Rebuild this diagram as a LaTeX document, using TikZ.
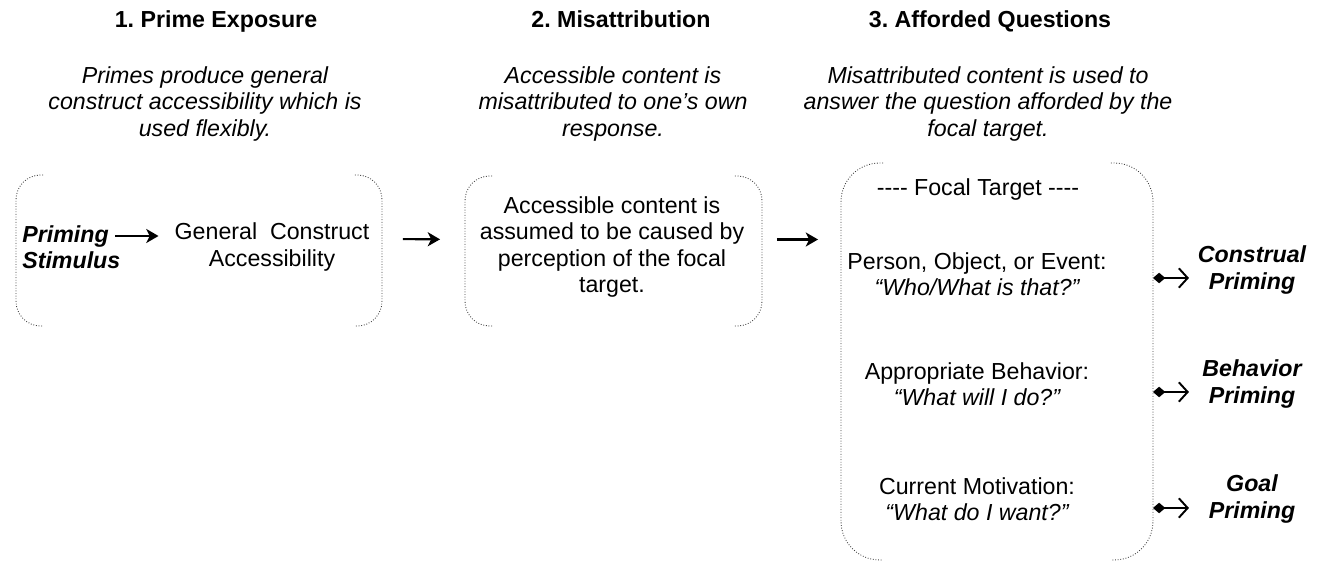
\documentclass[tikz,border=0pt]{standalone}
\usepackage{fontspec}
\setmainfont{Liberation Sans}
\usetikzlibrary{arrows.meta}
\tikzstyle{txt} = [align=center, inner sep=0pt, font={\fontsize{13.2}{15}\selectfont\frenchspacing}]
\tikzstyle{head} = [txt, anchor=base, font={\fontsize{13.2}{15}\selectfont\frenchspacing\bfseries}]
\tikzstyle{sub} = [txt, font={\fontsize{13.2}{15}\selectfont\itshape}]
\tikzstyle{prime} = [txt, font={\fontsize{13.2}{15}\selectfont\bfseries\itshape}]
\tikzstyle{frame} = [inner sep=0pt, outer sep=0pt]
\tikzstyle{brk} = [draw=black!75, densely dotted, line width=0.5pt]
\tikzstyle{flow} = [-{Stealth[length=7pt,width=8pt,inset=2pt]}, line width=1.2pt]
\tikzstyle{side} = [{Diamond[length=7pt,width=6pt]}-{Straight Barb[length=5pt,width=11pt]}, line width=1.1pt]

\begin{document}
\begin{tikzpicture}[x=0.02cm,y=-0.02cm]
  \useasboundingbox (0,0) rectangle (1323,570);
  \node[head](h1) at (216,28){1. Prime Exposure};
  \node[head](h2) at (621,28){2. Misattribution};
  \node[head](h3) at (990,28){3. Afforded Questions};
  \node[sub](s1) at (205,104){Primes produce general\\construct accessibility which is\\used flexibly.};
  \node[sub](s2) at (613,104){Accessible content is\\misattributed to one’s own\\response.};
  \node[sub](s3) at (988,104){Misattributed content is used to\\answer the question afforded by the\\focal target.};
  \node[frame,minimum width=7.32cm,minimum height=3.02cm](b1) at (199,250.5){};
  \node[frame,minimum width=5.94cm,minimum height=3cm](b2) at (613.5,251){};
  \node[frame,minimum width=6.24cm,minimum height=7.94cm](b3) at (997,361.5){};
  \draw[brk,rounded corners=14pt] (b1.north west) ++(27,0) -| (b1.south west) -- ++(27,0);
  \draw[brk,rounded corners=14pt] (b1.north east) ++(-27,0) -| (b1.south east) -- ++(-27,0);
  \draw[brk,rounded corners=14pt] (b2.north west) ++(27,0) -| (b2.south west) -- ++(27,0);
  \draw[brk,rounded corners=14pt] (b2.north east) ++(-27,0) -| (b2.south east) -- ++(-27,0);
  \draw[brk,rounded corners=22pt] (b3.north west) ++(42,0) -| (b3.south west) -- ++(42,0);
  \draw[brk,rounded corners=22pt] (b3.north east) ++(-42,0) -| (b3.south east) -- ++(-42,0);
  \node[prime,align=left,anchor=west](ps) at (22,247){Priming\\Stimulus};
  \node[txt](gc) at (272,247){General\ \ Construct\\Accessibility};
  \node[txt](ac) at (612,247){Accessible content is\\assumed to be caused by\\perception of the focal\\target.};
  \node[txt](ft) at (978,190){-{}-{}-{}- Focal Target -{}-{}-{}-};
  \node[txt](q1) at (977,274){Person, Object, or Event:\\{\itshape “Who/What is that?”}};
  \node[txt](q2) at (977,384){Appropriate Behavior:\\{\itshape “What will I do?”}};
  \node[txt](q3) at (977,499){Current Motivation:\\{\itshape “What do I want?”}};
  \node[prime](p1) at (1252,270){Construal\\Priming};
  \node[prime](p2) at (1252,384){Behavior\\Priming};
  \node[prime](p3) at (1252,499){Goal\\Priming};
  \draw[flow,line width=1.6pt,shorten <=-3pt,shorten >=9pt] (ps.east |- 0,236) -- (gc.west |- 0,236);
  \draw[flow,shorten <=0.42cm,shorten >=0.5cm] ([yshift=0.23cm]b1.east) -- ([yshift=0.23cm]b2.west);
  \draw[flow,shorten <=0.3cm,shorten >=0.46cm] ([yshift=0.23cm]b2.east) -- ([yshift=0.23cm]b2.east -| b3.west);
  \draw[side] (b3.east |- 0,278) -- ++(36,0);
  \draw[side] (b3.east |- 0,392) -- ++(36,0);
  \draw[side] (b3.east |- 0,508) -- ++(36,0);
\end{tikzpicture}
\end{document}
